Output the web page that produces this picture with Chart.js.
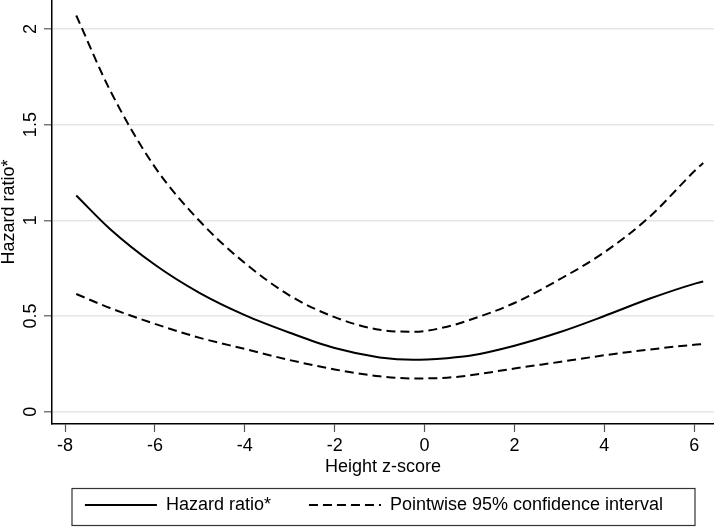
<!DOCTYPE html>
<html>
<head>
<meta charset="utf-8">
<script src="https://cdn.jsdelivr.net/npm/chart.js@4/dist/chart.umd.min.js"></script>
<style>
  html, body { margin: 0; padding: 0; background: #fff; }
</style>
</head>
<body>
<canvas id="hrChart" width="714" height="528"></canvas>
<script>
// Height z-score values where the curves were read
const zScores = [-7.75, -7, -6, -5, -4, -3, -2, -1, -0.25, 0.5, 1, 2, 3, 4, 5, 6, 6.2];

// Hazard ratio and pointwise 95% CI
const hazardRatio = [1.13, 0.955, 0.768, 0.62, 0.505, 0.413, 0.333, 0.284, 0.271, 0.28, 0.292, 0.345, 0.415, 0.5, 0.59, 0.668, 0.68];
const upperCI = [2.07, 1.68, 1.278, 0.995, 0.777, 0.607, 0.494, 0.428, 0.418, 0.444, 0.479, 0.568, 0.691, 0.833, 1.017, 1.256, 1.30];
const lowerCI = [0.615, 0.542, 0.459, 0.386, 0.328, 0.27, 0.221, 0.185, 0.174, 0.178, 0.19, 0.226, 0.26, 0.295, 0.325, 0.35, 0.354];

// Axis ticks
const xTicks = [-8, -6, -4, -2, 0, 2, 4, 6];
const yTicks = [0, 0.5, 1, 1.5, 2];

function toPoints(ys) {
  return zScores.map((z, i) => ({ x: z, y: ys[i] }));
}

Chart.defaults.font.family = '"Liberation Sans", Arial, sans-serif';
Chart.defaults.font.size = 18;
Chart.defaults.color = '#000';

// legend: frame around it and pull the row up a bit (padding is shared by x and y)
let frame = null;
const legendFrame = {
  id: 'legendFrame',
  afterLayout(chart) {
    const lg = chart.legend;
    if (!lg) return;
    frame = { l: lg.left + 20, r: lg.right - 19, t: lg.top + 6.5, b: lg.bottom - 2.5 };
    lg.top -= 24;
    lg.left -= 18;
  },
  afterDraw(chart) {
    if (!frame) return;
    const ctx = chart.ctx;
    ctx.save();
    ctx.strokeStyle = '#333';
    ctx.lineWidth = 1.2;
    ctx.strokeRect(frame.l, frame.t, frame.r - frame.l, frame.b - frame.t);
    ctx.restore();
  }
};

const dash = [9, 5];

function curve(label, values, borderDash) {
  return {
    label: label,
    data: toPoints(values),
    borderColor: '#000',
    borderWidth: 2,
    borderDash: borderDash,
    pointRadius: 0,
    cubicInterpolationMode: 'monotone',
    fill: false
  };
}

new Chart(document.getElementById('hrChart').getContext('2d'), {
  type: 'line',
  data: {
    datasets: [
      curve('Hazard ratio*', hazardRatio, []),
      curve('Pointwise 95% confidence interval', upperCI, dash),
      curve('lower', lowerCI, dash)
    ]
  },
  options: {
    responsive: false,
    animation: false,
    layout: { padding: 0 },
    plugins: {
      tooltip: { enabled: false },
      legend: {
        position: 'bottom',
        fullSize: false,
        maxHeight: 46,
        labels: {
          usePointStyle: true,
          pointStyle: 'line',
          pointStyleWidth: 72,
          padding: 38,
          color: '#000',
          filter: item => item.datasetIndex < 2,
          generateLabels: chart => {
            const items = Chart.defaults.plugins.legend.labels.generateLabels(chart);
            return items.map(it => {
              const ds = chart.data.datasets[it.datasetIndex];
              it.lineDash = ds.borderDash || [];
              it.lineWidth = ds.borderWidth;
              it.strokeStyle = '#000';
              return it;
            });
          }
        }
      }
    },
    scales: {
      x: {
        type: 'linear',
        min: -8.29,
        max: 6.44,
        afterBuildTicks: s => { s.ticks = xTicks.map(v => ({ value: v })); },
        afterFit: s => { s.height = 58; s.paddingLeft = 0; s.paddingRight = 0; },
        grid: { drawOnChartArea: false, tickLength: 8, tickColor: '#555', tickWidth: 1.2 },
        border: { color: '#000', width: 1.5 },
        ticks: { padding: 3, maxRotation: 0, callback: v => String(v) },
        title: { display: true, text: 'Height z-score', padding: { top: 0, bottom: 4 } }
      },
      y: {
        min: -0.064,
        max: 2.151,
        afterBuildTicks: s => { s.ticks = yTicks.map(v => ({ value: v })); },
        afterFit: s => { s.width = 52; s.paddingTop = 0; s.paddingBottom = 0; },
        grid: { color: '#e6e6e6', lineWidth: 1.6, tickLength: 8, tickColor: '#555', tickWidth: 1.2 },
        border: { color: '#000', width: 1.5 },
        ticks: { minRotation: 90, maxRotation: 90, crossAlign: 'center', padding: 0, callback: v => String(v) },
        title: { display: true, text: 'Hazard ratio*', font: { lineHeight: 1 }, padding: 0 }
      }
    }
  },
  plugins: [legendFrame]
});
</script>
</body>
</html>
